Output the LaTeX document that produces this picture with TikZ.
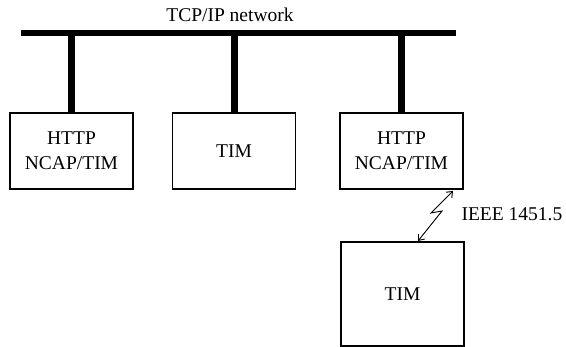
\documentclass[tikz,border=0pt]{standalone}
\usepackage{fontspec}
\setmainfont{Liberation Serif}
\usetikzlibrary{arrows.meta}
\tikzset{
  unit/.style={draw, line width=1.2pt, minimum width=123pt, minimum height=76pt,
    align=center, inner sep=0pt},
  bus/.style={line width=6pt},
  drop/.style={line width=7pt},
  wireless/.style={line width=0.9pt,
    {Straight Barb[length=5pt,width=8pt]}-{Straight Barb[length=5pt,width=8pt]}},
}

\begin{document}
\begin{tikzpicture}[x=1pt,y=-1pt,font=\fontsize{19.5}{25}\selectfont]
\useasboundingbox (0,0) rectangle (566,347);
% network line
\coordinate (busL) at (21,33);
\coordinate (busR) at (456,33);
\draw[bus] (busL) -- (busR);
\node (net) at (230,15) {TCP/IP network};
% units
\node[unit] (ncapA) at (71.5,151) {HTTP\\NCAP/TIM};
\node[unit] (tim) at (234,151) {TIM};
\node[unit] (ncapB) at (401.5,151) {HTTP\\NCAP/TIM};
\node[unit, minimum height=104pt] (timW) at (402.5,294) {TIM};
\foreach \u in {ncapA,tim,ncapB}
  \draw[drop] (\u.north |- busL) -- (\u.north);
% wireless link
\coordinate (wTop) at (453,191);
\coordinate (wBot) at (418,241);
\draw[wireless] (wTop) -- (431,213) -- (442,211) -- (wBot);
\node[anchor=west] (ieee) at (458,214) {IEEE 1451.5};
\end{tikzpicture}
\end{document}
